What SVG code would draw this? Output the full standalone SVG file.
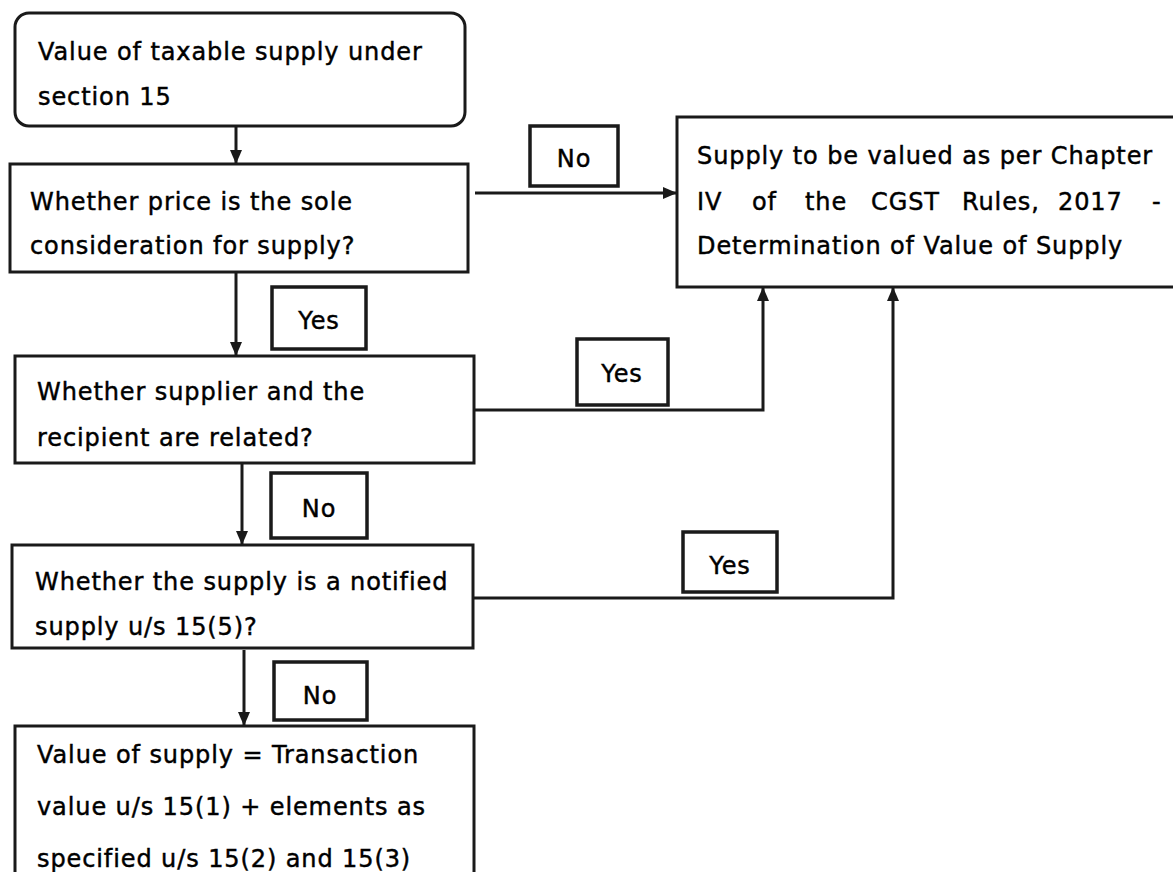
<svg xmlns="http://www.w3.org/2000/svg" width="1173" height="872" viewBox="0 0 1173 872">
<style>
.box{fill:#fff;stroke:#1a1a1a;stroke-width:3}
.lbl{fill:#fff;stroke:#1a1a1a;stroke-width:3.5}
.t{font-family:"DejaVu Sans",sans-serif;font-size:24px;letter-spacing:0.9px;fill:#000;stroke:#000;stroke-width:0.45px}
.c{text-anchor:middle}
.con{fill:none;stroke:#1a1a1a;stroke-width:3}
</style>
<defs>
<marker id="ah" markerUnits="userSpaceOnUse" markerWidth="14" markerHeight="12" refX="13" refY="6" orient="auto">
<path d="M0,0 L14,6 L0,12 Z" fill="#1a1a1a"/>
</marker>
</defs>
<rect width="1173" height="872" fill="#fff"/>
<g id="connectors">
<line class="con" x1="236" y1="127" x2="236" y2="163" marker-end="url(#ah)"/>
<line class="con" x1="236" y1="273" x2="236" y2="355" marker-end="url(#ah)"/>
<line class="con" x1="242" y1="464" x2="242" y2="544" marker-end="url(#ah)"/>
<line class="con" x1="244" y1="650" x2="244" y2="725" marker-end="url(#ah)"/>
<line class="con" x1="475" y1="193" x2="676" y2="193" marker-end="url(#ah)"/>
<polyline class="con" points="474,410 763,410 763,288" marker-end="url(#ah)"/>
<polyline class="con" points="473,598 893,598 893,288" marker-end="url(#ah)"/>
</g>
<g id="start">
<rect class="box" x="15" y="13" width="450" height="113" rx="14"/>
<text class="t" x="38" y="60">Value of taxable supply under</text>
<text class="t" x="38" y="105">section 15</text>
</g>
<g id="q-price">
<rect class="box" x="10" y="164" width="458" height="108"/>
<text class="t" x="30" y="210">Whether price is the sole</text>
<text class="t" x="30" y="254">consideration for supply?</text>
</g>
<g id="q-related">
<rect class="box" x="15" y="356" width="459" height="107"/>
<text class="t" x="37" y="400">Whether supplier and the</text>
<text class="t" x="37" y="446">recipient are related?</text>
</g>
<g id="q-notified">
<rect class="box" x="12" y="545" width="461" height="103"/>
<text class="t" x="35" y="590">Whether the supply is a notified</text>
<text class="t" x="35" y="635">supply u/s 15(5)?</text>
</g>
<g id="result-transaction">
<rect class="box" x="15" y="726" width="459" height="160"/>
<text class="t" x="37" y="763">Value of supply = Transaction</text>
<text class="t" x="37" y="815">value u/s 15(1) + elements as</text>
<text class="t" x="37" y="867">specified u/s 15(2) and 15(3)</text>
</g>
<g id="result-chapter4">
<rect class="box" x="677" y="117" width="510" height="170"/>
<text class="t" x="697" y="164">Supply to be valued as per Chapter</text>
<text class="t" y="210"><tspan x="697">IV</tspan><tspan x="752">of</tspan><tspan x="805">the</tspan><tspan x="871">CGST</tspan><tspan x="962">Rules,</tspan><tspan x="1058">2017</tspan><tspan x="1152">-</tspan></text>
<text class="t" x="697" y="254">Determination of Value of Supply</text>
</g>
<g id="label-no-1">
<rect class="lbl" x="530" y="126" width="88" height="60"/>
<text class="t c" x="574" y="167">No</text>
</g>
<g id="label-yes-1">
<rect class="lbl" x="272" y="287" width="94" height="62"/>
<text class="t c" x="319" y="329">Yes</text>
</g>
<g id="label-no-2">
<rect class="lbl" x="271" y="473" width="96" height="65"/>
<text class="t c" x="319" y="517">No</text>
</g>
<g id="label-no-3">
<rect class="lbl" x="274" y="662" width="93" height="58"/>
<text class="t c" x="320" y="704">No</text>
</g>
<g id="label-yes-2">
<rect class="lbl" x="577" y="339" width="91" height="66"/>
<text class="t c" x="622" y="382">Yes</text>
</g>
<g id="label-yes-3">
<rect class="lbl" x="683" y="532" width="94" height="60"/>
<text class="t c" x="730" y="574">Yes</text>
</g>
</svg>
